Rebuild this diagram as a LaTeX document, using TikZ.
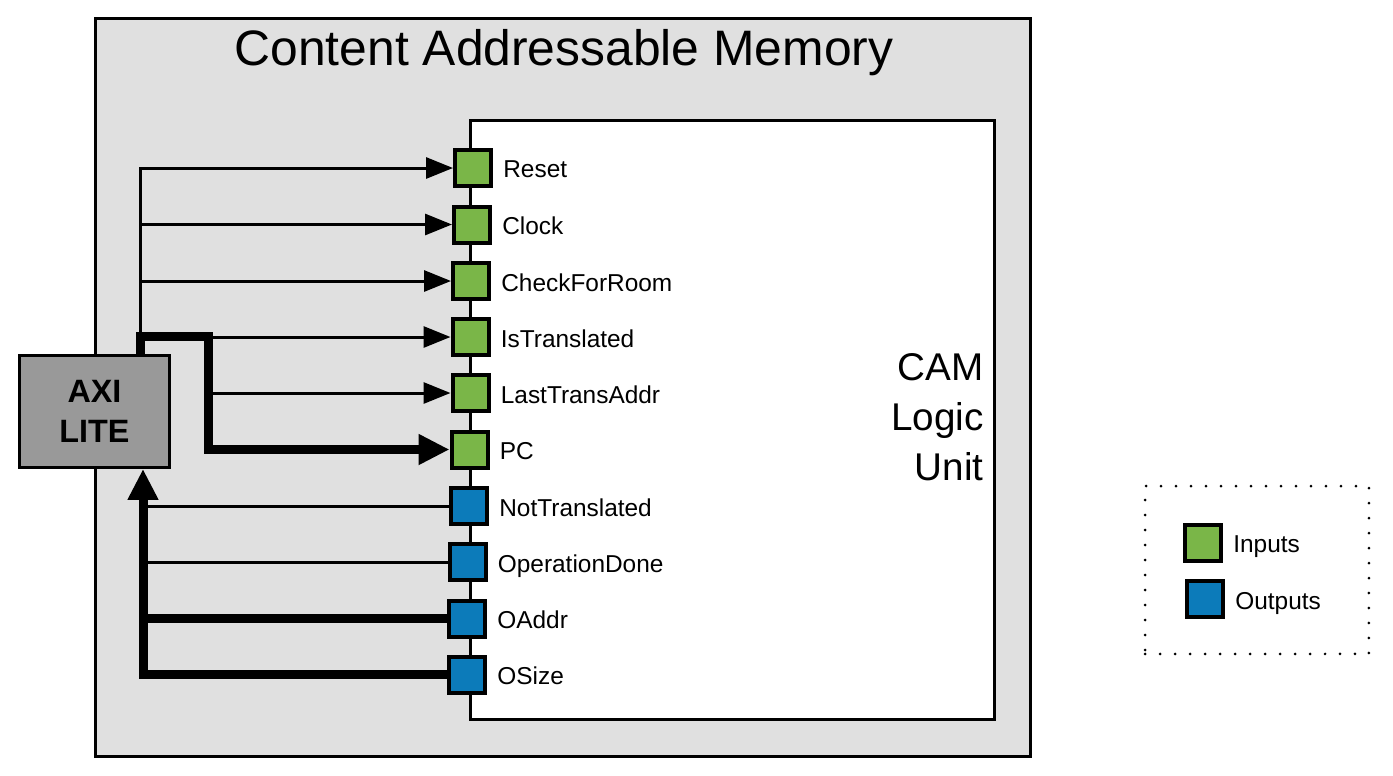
\documentclass[tikz,border=0pt]{standalone}
\usepackage{fontspec}
\setmainfont{Liberation Sans}
\usetikzlibrary{arrows.meta,positioning}
\definecolor{InGreen}{HTML}{7AB648}
\definecolor{OutBlue}{HTML}{0C7BBA}
\definecolor{MemGray}{HTML}{E0E0E0}
\definecolor{AxiGray}{HTML}{999999}

\begin{document}
\begin{tikzpicture}
    [
        x=0.02cm, y=-0.02cm,
        Container/.style={rectangle,draw,line width=0.06cm,fill=MemGray,minimum width=18.71cm,minimum height=14.77cm},
        LogicBox/.style={rectangle,draw,line width=0.06cm,fill=white,minimum width=10.5cm,minimum height=11.99cm},
        AxiBox/.style={rectangle,draw,line width=0.06cm,fill=AxiGray,minimum width=3cm,minimum height=2.24cm,align=center,
            font=\fontsize{18.4pt}{22.7pt}\selectfont\bfseries},
        Port/.style={rectangle,draw,line width=0.08cm,minimum size=0.72cm,inner sep=0pt},
        InPort/.style={Port,fill=InGreen},
        OutPort/.style={Port,fill=OutBlue},
        PortLabel/.style={inner sep=0pt,text depth=0pt,yshift=-0.03cm,font=\fontsize{13.9pt}{16pt}\selectfont},
        TitleText/.style={inner sep=0pt,font=\fontsize{28.35pt}{34pt}\selectfont},
        UnitText/.style={inner sep=0pt,align=right,font=\fontsize{22pt}{28.35pt}\selectfont},
        KeyBox/.style={rectangle,draw,line width=0.06cm,line cap=round,dash pattern=on 0pt off 0.3cm,minimum width=4.48cm,minimum height=3.36cm},
        ThinWire/.style={line width=0.06cm},
        ThickWire/.style={line width=0.18cm},
        ThinArrow/.style={ThinWire,-{Triangle[length=0.54cm,width=0.42cm]}},
        ThickArrow/.style={ThickWire,-{Triangle[length=0.62cm,width=0.58cm]}}
    ]
    \useasboundingbox (0,0) rectangle (1393,775);

    \node[Container] (CAMemory) at (562.75,387.25) {};
    \node[TitleText,anchor=base] (MemTitle) at (564,65) {Content Addressable Memory};
    \node[LogicBox] (LogicUnit) at (732.5,420.25) {};
    \node[UnitText,anchor=east] (UnitLabel) at (984,417) {CAM\\Logic\\Unit};
    \node[AxiBox] (AXI) at (94.5,411.5) {AXI\\LITE};

    \node[InPort] (Reset) at (473,168) {};
    \node[InPort] (Clock) at (472,224.5) {};
    \node[InPort] (CheckForRoom) at (471,281) {};
    \node[InPort] (IsTranslated) at (470.5,337) {};
    \node[InPort] (LastTransAddr) at (470.5,393) {};
    \node[InPort] (PC) at (469.5,449.5) {};
    \node[OutPort] (NotTranslated) at (469,506) {};
    \node[OutPort] (OperationDone) at (467.5,562) {};
    \node[OutPort] (OAddr) at (467,618.5) {};
    \node[OutPort] (OSize) at (467,674.5) {};

    \node[PortLabel,right=0.2cm of Reset] (ResetText) {Reset};
    \node[PortLabel,right=0.2cm of Clock] (ClockText) {Clock};
    \node[PortLabel,right=0.2cm of CheckForRoom] (CheckForRoomText) {CheckForRoom};
    \node[PortLabel,right=0.2cm of IsTranslated] (IsTranslatedText) {IsTranslated};
    \node[PortLabel,right=0.2cm of LastTransAddr] (LastTransAddrText) {LastTransAddr};
    \node[PortLabel,right=0.2cm of PC] (PCText) {PC};
    \node[PortLabel,right=0.2cm of NotTranslated] (NotTranslatedText) {NotTranslated};
    \node[PortLabel,right=0.2cm of OperationDone] (OperationDoneText) {OperationDone};
    \node[PortLabel,right=0.2cm of OAddr] (OAddrText) {OAddr};
    \node[PortLabel,right=0.2cm of OSize] (OSizeText) {OSize};

    \coordinate (InBus) at (140,336);
    \coordinate (PCBus) at (208,336);
    \coordinate (OutBus) at (143,674.5);

    \draw[ThickArrow] (AXI.north -| InBus) -- (InBus) -- (PCBus) |- (PC.west);
    \draw[ThinArrow] (InBus) |- (Reset.west);
    \draw[ThinArrow] (InBus |- Clock.west) -- (Clock.west);
    \draw[ThinArrow] (InBus |- CheckForRoom.west) -- (CheckForRoom.west);
    \draw[ThinArrow] (PCBus |- IsTranslated.west) -- (IsTranslated.west);
    \draw[ThinArrow] (PCBus |- LastTransAddr.west) -- (LastTransAddr.west);

    \draw[ThickArrow] (OSize.west) -- (OutBus) -- (AXI.south -| OutBus);
    \draw[ThickWire] (OAddr.west) -- (OutBus |- OAddr.west);
    \draw[ThinWire] (OperationDone.west) -- (OutBus |- OperationDone.west);
    \draw[ThinWire] (NotTranslated.west) -- (OutBus |- NotTranslated.west);

    \node[KeyBox] (Legend) at (1257,570) {};
    \node[InPort] (InputKey) at (1203,542.5) {};
    \node[OutPort] (OutputKey) at (1205,599) {};
    \node[PortLabel,right=0.2cm of InputKey] (InputKeyText) {Inputs};
    \node[PortLabel,right=0.2cm of OutputKey] (OutputKeyText) {Outputs};
\end{tikzpicture}
\end{document}
